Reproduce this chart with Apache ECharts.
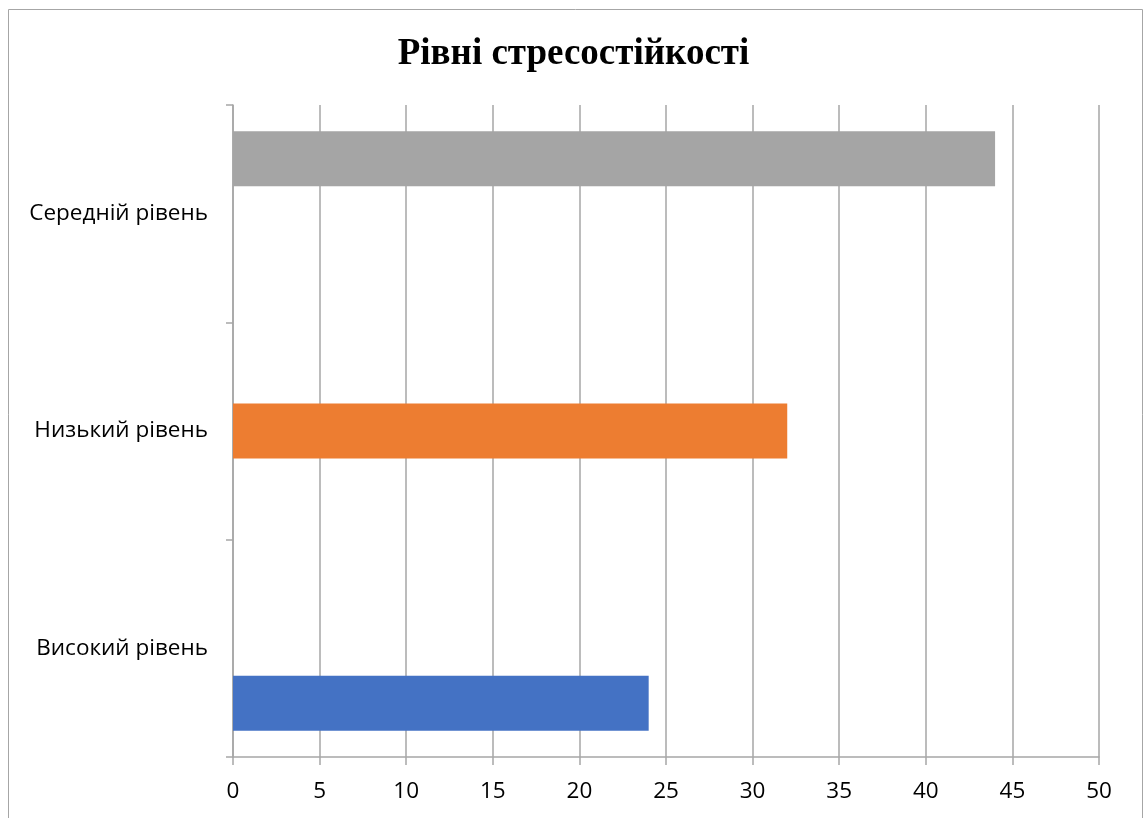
<!DOCTYPE html>
<html>
<head>
<meta charset="utf-8">
<script src="https://cdn.jsdelivr.net/npm/echarts@6/dist/echarts.min.js"></script>
<style>html,body{margin:0;padding:0;background:#fff}#c{width:1147px;height:818px}</style>
</head>
<body>
<div id="c"></div>
<script>
const title = 'Рівні стресостійкості';
const categories = ['Високий рівень', 'Низький рівень', 'Середній рівень'];
const seriesNames = ['Середній рівень', 'Низький рівень', 'Високий рівень'];
const midValues = [null, null, 44];
const lowValues = [null, 32, null];
const highValues = [24, null, null];
const xTicks = [0, 50, 5];
const colors = ['#A5A5A5', '#ED7D31', '#4472C4'];

const chart = echarts.init(document.getElementById('c'));
const lbl = {fontFamily: 'Open Sans', fontSize: 22.5, color: '#000'};
const dataSets = [midValues, lowValues, highValues];
chart.setOption({
  animation: false,
  backgroundColor: '#fff',
  title: {text: title, left: 'center', top: 31,
    textStyle: {fontFamily: 'Liberation Serif', fontWeight: 'bold', fontSize: 37, color: '#000'}},
  graphic: [{type: 'rect', shape: {x: 8.5, y: 9.5, width: 1134, height: 830},
    style: {fill: 'none', stroke: '#a6a6a6', lineWidth: 1}, silent: true}],
  grid: {left: 233, right: 48, top: 105, bottom: 61, containLabel: false},
  xAxis: {type: 'value', min: xTicks[0], max: xTicks[1], interval: xTicks[2],
    axisLine: {show: true, lineStyle: {color: '#a6a6a6', width: 1.5}},
    axisTick: {show: true, length: 8, lineStyle: {color: '#a6a6a6', width: 1.5}},
    splitLine: {show: true, lineStyle: {color: '#a6a6a6', width: 1.5}},
    axisLabel: Object.assign({margin: 23}, lbl)},
  yAxis: {type: 'category', data: categories,
    axisLine: {show: true, lineStyle: {color: '#a6a6a6', width: 1.5}},
    axisTick: {show: true, length: 7, lineStyle: {color: '#a6a6a6', width: 1.5}},
    splitLine: {show: false},
    axisLabel: Object.assign({margin: 25}, lbl)},
  series: dataSets.map((d, i) => ({
    type: 'bar', name: seriesNames[i], data: d, barWidth: 55, barGap: '0%',
    itemStyle: {color: colors[i]}
  }))
});
</script>
</body>
</html>
